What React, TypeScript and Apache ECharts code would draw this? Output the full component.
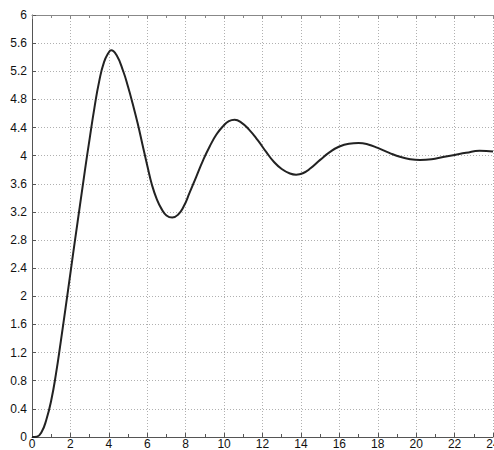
import React, { useEffect, useRef } from "react";
import * as echarts from "echarts";

const times = [0, 0.25, 0.5, 0.75, 1.0, 1.25, 1.5, 1.75, 2.0, 2.25, 2.5, 2.75, 3.0, 3.25, 3.5, 3.75, 4.0, 4.12, 4.4, 4.75, 5.0, 5.25, 5.5, 5.75, 6.0, 6.25, 6.5, 6.75, 7.0, 7.3, 7.6, 7.9, 8.2, 8.55, 8.9, 9.25, 9.6, 9.95, 10.25, 10.55, 10.9, 11.3, 11.75, 12.2, 12.6, 13.0, 13.4, 13.75, 14.1, 14.5, 15.0, 15.5, 16.0, 16.5, 17.0, 17.5, 18.0, 18.6, 19.2, 19.7, 20.2, 20.8, 21.4, 22.0, 22.6, 23.3, 24];
const values = [0, 0.005, 0.07, 0.25, 0.52, 0.9, 1.36, 1.84, 2.33, 2.82, 3.3, 3.78, 4.24, 4.68, 5.06, 5.33, 5.47, 5.5, 5.43, 5.2, 4.98, 4.73, 4.46, 4.16, 3.86, 3.58, 3.38, 3.24, 3.15, 3.12, 3.16, 3.28, 3.47, 3.7, 3.93, 4.13, 4.3, 4.42, 4.49, 4.51, 4.47, 4.37, 4.22, 4.05, 3.91, 3.81, 3.75, 3.73, 3.75, 3.82, 3.94, 4.05, 4.13, 4.17, 4.18, 4.16, 4.11, 4.04, 3.98, 3.95, 3.94, 3.95, 3.98, 4.01, 4.04, 4.07, 4.06];

export default function App() {
  const ref = useRef<HTMLDivElement>(null);
  useEffect(() => {
    document.body.style.margin = "0";
    const chart = echarts.init(ref.current!, null, { renderer: "svg" });
    const font = "Liberation Sans";
    const grid = { show: true, lineStyle: { color: "#b0b0b0", type: [1, 2], width: 1 } };
    chart.setOption({
      animation: false,
      backgroundColor: "#ffffff",
      grid: { left: 32, right: 1, top: 15, bottom: 13, containLabel: false, outerBoundsMode: "none" },
      xAxis: [
        {
          type: "value", min: 0, max: 24, interval: 2,
          axisLine: { show: true, lineStyle: { color: "#555", width: 1 } },
          axisTick: { show: true, inside: true, length: 4, lineStyle: { color: "#555" } },
          minorTick: { show: true, splitNumber: 2, length: 3, lineStyle: { color: "#555" } },
          axisLabel: { color: "#111", fontFamily: font, fontSize: 12, margin: 1 },
          splitLine: grid,
        },
        {
          type: "value", min: 0, max: 24, interval: 2, position: "top",
          axisLine: { show: true, lineStyle: { color: "#888", width: 1 } },
          axisTick: { show: true, inside: true, length: 4, lineStyle: { color: "#888" } },
          minorTick: { show: true, splitNumber: 2, length: 3, lineStyle: { color: "#888" } },
          axisLabel: { show: false },
          splitLine: { show: false },
        },
      ],
      yAxis: {
        type: "value", min: 0, max: 6, interval: 0.4,
        axisLine: { show: true, lineStyle: { color: "#555", width: 1 } },
        axisTick: { show: true, inside: true, length: 4, lineStyle: { color: "#555" } },
        axisLabel: {
          color: "#111", fontFamily: font, fontSize: 12, margin: 5,
          formatter: (v: number) => String(+v.toFixed(1)),
        },
        splitLine: grid,
      },
      series: [
        {
          type: "line",
          data: times.map((t, i) => [t, values[i]]),
          smooth: 0.5,
          showSymbol: false,
          lineStyle: { color: "#222", width: 2 },
        },
      ],
    });
    return () => chart.dispose();
  }, []);
  return <div ref={ref} style={{ width: 494, height: 450 }} />;
}
